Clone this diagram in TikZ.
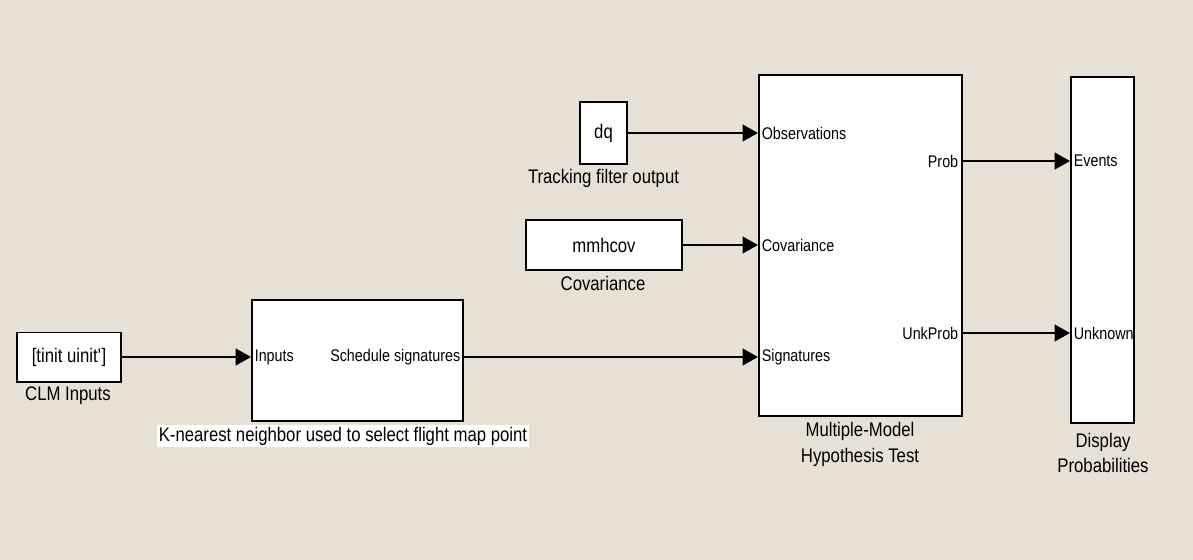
\documentclass[tikz,border=0pt]{standalone}
\usepackage{fontspec}
\setmainfont{Liberation Sans}[FakeStretch=0.85]
\usepackage{tikz}
\usetikzlibrary{arrows.meta}
\usetikzlibrary{calc,positioning}
\definecolor{paper}{RGB}{231,224,212}

\begin{document}
\begin{tikzpicture}[x=0.025cm, y=-0.025cm, >={Triangle[length=11pt,width=12pt]},
    block/.style={draw, fill=white, line width=1.42pt, inner sep=0pt, font=\fontsize{14}{18.4}\selectfont},
    port/.style={inner sep=2.5pt, font=\fontsize{12}{14}\selectfont},
    caption/.style={align=center, font=\fontsize{14}{18.4}\selectfont},
    sig/.style={->, line width=1.42pt}]

    \fill[paper] (0,0) rectangle (1193,560);
    \useasboundingbox (0,0) rectangle (1193,560);

    % sources
    \node[block, minimum width=2.6cm, minimum height=1.225cm] (clm) at (69,357) {[tinit uinit\textquotesingle]};
    \node[caption] (clmlbl) at (68,396) {CLM Inputs};

    \node[block, minimum width=1.175cm, minimum height=1.525cm] (dq) at (603.5,133) {dq};
    \node[caption] (dqlbl) at (603.5,178) {Tracking filter output};

    \node[block, minimum width=3.9cm, minimum height=1.225cm] (cov) at (604,245) {mmhcov};
    \node[caption] (covlbl) at (603,283) {Covariance};

    % schedule block
    \node[block, minimum width=5.275cm, minimum height=3.025cm] (knn) at (357.5,360.5) {};
    \node[port, anchor=west] (knnin) at (knn.west |- clm) {Inputs};
    \node[port, anchor=east] (knnout) at (knn.east |- clm) {Schedule signatures};
    \node[caption, fill=white, inner sep=1pt] (knnlbl) at (343,436) {K-nearest neighbor used to select flight map point};

    % hypothesis test
    \node[block, minimum width=5.075cm, minimum height=8.525cm] (mmht) at (860.5,245.5) {};
    \node[port, anchor=west] (obs) at (mmht.west |- dq) {Observations};
    \node[port, anchor=west] (covin) at (mmht.west |- cov) {Covariance};
    \node[port, anchor=west] (sigin) at (mmht.west |- clm) {Signatures};
    \coordinate (prob) at (962,161);
    \coordinate (unk) at (962,333);
    \node[port, anchor=east] (problbl) at (prob) {Prob};
    \node[port, anchor=east] (unklbl) at (unk) {UnkProb};
    \node[caption] (mmhtlbl) at (860,444) {Multiple-Model\\Hypothesis Test};

    % display
    \node[block, minimum width=1.575cm, minimum height=8.65cm] (disp) at (1102.5,250) {};
    \node[port, anchor=west] (ev) at (disp.west |- prob) {Events};
    \node[port, anchor=west] (unkn) at (disp.west |- unk) {Unknown};
    \node[caption] (displbl) at (1103,453) {Display\\Probabilities};

    % signal lines
    \draw[sig] (clm.east) -- (clm -| knn.west);
    \draw[sig] (knn.east |- clm) -- (clm -| mmht.west);
    \draw[sig] (dq.east) -- (dq -| mmht.west);
    \draw[sig] (cov.east) -- (cov -| mmht.west);
    \draw[sig] (prob) -- (prob -| disp.west);
    \draw[sig] (unk) -- (unk -| disp.west);

\end{tikzpicture}
\end{document}
